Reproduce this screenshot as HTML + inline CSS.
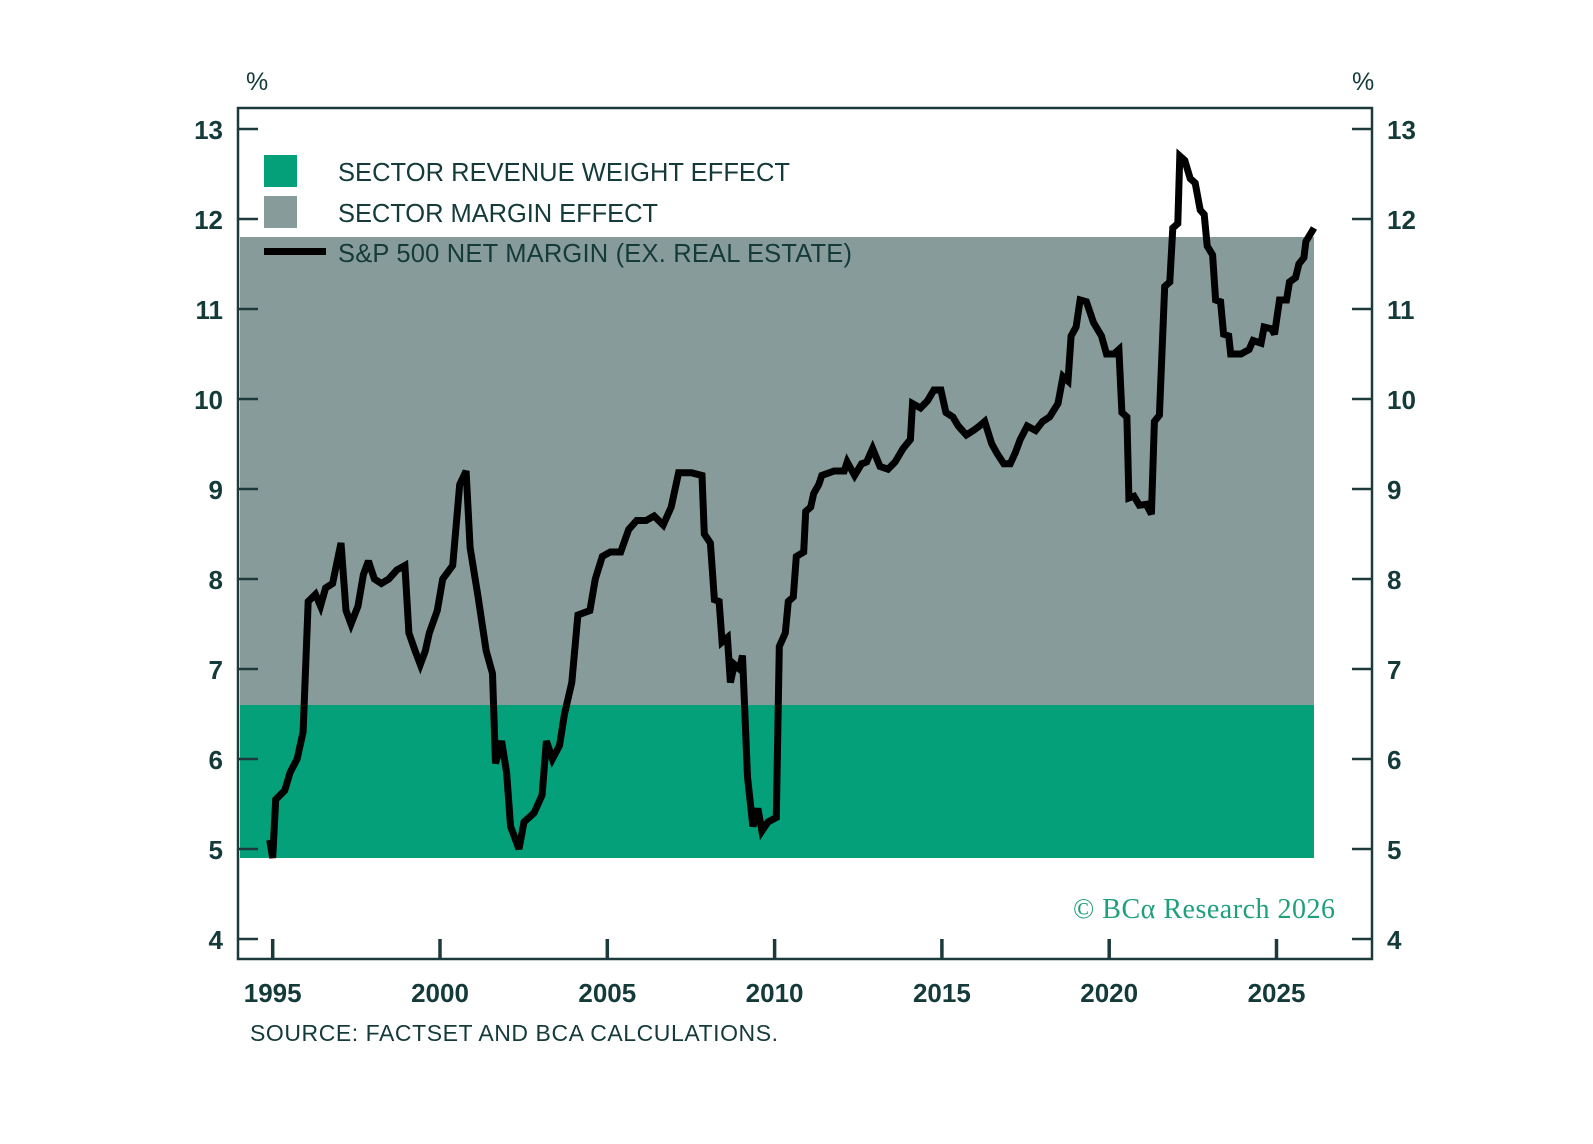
<!DOCTYPE html>
<html><head><meta charset="utf-8"><style>
html,body{margin:0;padding:0;background:#fff;}
svg{display:block;font-family:"Liberation Sans",sans-serif;}
</style></head><body>
<svg id="chart" width="1593" height="1144" viewBox="0 0 1593 1144" xmlns="http://www.w3.org/2000/svg">
<rect x="0" y="0" width="1593" height="1144" fill="#fff"/>
<g id="bands"></g>
<g id="line"></g>
<rect x="238" y="108" width="1134" height="851" fill="none" stroke="#1c3a3c" stroke-width="2.5"/>
<g id="axes"></g>
<text x="246" y="90" font-size="25" fill="#143a3a">%</text>
<text x="1352" y="90" font-size="25" fill="#143a3a">%</text>
<g>
<rect x="264" y="155" width="33" height="32" fill="#04a07a"/>
<text x="338" y="181" font-size="25.5" fill="#143a3a" textLength="452">SECTOR REVENUE WEIGHT EFFECT</text>
<rect x="264" y="196" width="33" height="32" fill="#879c9a"/>
<text x="338" y="222" font-size="25.5" fill="#143a3a" textLength="320">SECTOR MARGIN EFFECT</text>
<rect x="264" y="248" width="62" height="7" fill="#000"/>
<text x="338" y="262" font-size="25.5" fill="#143a3a" textLength="514">S&amp;P 500 NET MARGIN (EX. REAL ESTATE)</text>
</g>
<text x="1073" y="918" font-size="28" fill="#1fa07c" font-family="'Liberation Serif',serif" textLength="262">© BCα Research 2026</text>
<text x="250" y="1041" font-size="23" fill="#143a3a" textLength="528">SOURCE: FACTSET AND BCA CALCULATIONS.</text>
<script>
const yearTicks=[1995,2000,2005,2010,2015,2020,2025];
const valueTicks=[4,5,6,7,8,9,10,11,12,13];
const bandLevels=[4.9,6.6,11.8];
const bandEnd=[2026.12];
const years=[1994.91,1995.0,1995.09,1995.36,1995.52,1995.73,1995.91,1996.06,1996.28,1996.43,1996.58,1996.79,1997.04,1997.19,1997.34,1997.55,1997.71,1997.86,1998.04,1998.25,1998.47,1998.71,1998.95,1999.07,1999.26,1999.41,1999.56,1999.68,1999.92,2000.08,2000.38,2000.59,2000.78,2000.90,2001.14,2001.38,2001.57,2001.66,2001.84,2001.99,2002.11,2002.36,2002.51,2002.81,2003.05,2003.18,2003.36,2003.57,2003.72,2003.94,2004.12,2004.48,2004.64,2004.85,2005.09,2005.40,2005.64,2005.88,2006.16,2006.40,2006.67,2006.91,2007.13,2007.52,2007.83,2007.90,2008.08,2008.20,2008.34,2008.43,2008.59,2008.68,2008.80,2008.95,2009.04,2009.19,2009.35,2009.50,2009.62,2009.80,2010.05,2010.14,2010.32,2010.41,2010.56,2010.65,2010.87,2010.93,2011.08,2011.17,2011.32,2011.41,2011.78,2012.08,2012.17,2012.39,2012.60,2012.75,2012.93,2013.15,2013.39,2013.60,2013.84,2014.06,2014.12,2014.36,2014.57,2014.76,2014.97,2015.12,2015.33,2015.49,2015.73,2015.94,2016.12,2016.28,2016.49,2016.64,2016.85,2017.04,2017.19,2017.34,2017.55,2017.80,2018.01,2018.22,2018.47,2018.62,2018.77,2018.86,2019.01,2019.13,2019.32,2019.53,2019.77,2019.92,2020.14,2020.29,2020.38,2020.53,2020.59,2020.74,2020.90,2021.11,2021.26,2021.35,2021.50,2021.66,2021.81,2021.90,2022.05,2022.11,2022.26,2022.42,2022.57,2022.72,2022.84,2022.93,2023.09,2023.18,2023.33,2023.42,2023.57,2023.63,2023.94,2024.18,2024.30,2024.54,2024.63,2024.85,2024.94,2025.09,2025.30,2025.39,2025.57,2025.67,2025.82,2025.88,2026.12];
const netMargin=[5.1,4.9,5.55,5.65,5.85,6.0,6.3,7.75,7.83,7.7,7.9,7.95,8.4,7.65,7.5,7.7,8.05,8.2,8.0,7.95,8.0,8.1,8.15,7.4,7.2,7.05,7.2,7.4,7.65,8.0,8.15,9.05,9.2,8.35,7.8,7.2,6.95,5.95,6.2,5.85,5.25,5.0,5.3,5.4,5.6,6.2,6.0,6.15,6.5,6.85,7.6,7.65,8.0,8.25,8.3,8.3,8.55,8.65,8.65,8.7,8.6,8.8,9.18,9.18,9.15,8.5,8.4,7.77,7.75,7.3,7.35,6.85,7.05,7.0,7.15,5.8,5.25,5.45,5.2,5.3,5.35,7.25,7.4,7.75,7.8,8.25,8.3,8.75,8.8,8.95,9.05,9.15,9.2,9.2,9.3,9.15,9.28,9.3,9.45,9.25,9.22,9.3,9.45,9.55,9.95,9.9,9.98,10.1,10.1,9.85,9.8,9.7,9.6,9.65,9.7,9.75,9.5,9.4,9.28,9.28,9.4,9.55,9.7,9.65,9.75,9.8,9.95,10.25,10.2,10.7,10.8,11.1,11.08,10.85,10.7,10.5,10.5,10.55,9.85,9.8,8.9,8.92,8.82,8.83,8.72,9.75,9.82,11.25,11.3,11.9,11.95,12.7,12.65,12.45,12.4,12.1,12.05,11.7,11.6,11.1,11.08,10.72,10.7,10.5,10.5,10.55,10.65,10.62,10.8,10.78,10.72,11.1,11.1,11.3,11.35,11.5,11.57,11.75,11.9];

const NS='http://www.w3.org/2000/svg';
function xs(yr){return 272.7+(yr-1995)*33.46;}
function ys(v){return 939-(v-4)*90;}
function mk(tag,attrs,parent){const e=document.createElementNS(NS,tag);for(const k in attrs)e.setAttribute(k,attrs[k]);parent.appendChild(e);return e;}

const bands=document.getElementById('bands');
const bg=mk('rect',{x:240,y:ys(bandLevels[1]),width:xs(bandEnd[0])-240,height:ys(bandLevels[0])-ys(bandLevels[1]),fill:'#04a07a'},bands);


const bm=mk('rect',{x:240,y:ys(bandLevels[2]),width:xs(bandEnd[0])-240,height:ys(bandLevels[1])-ys(bandLevels[2]),fill:'#879c9a'},bands);



const lg=document.getElementById('line');
const pts=years.map((y,i)=>xs(y).toFixed(1)+','+ys(netMargin[i]).toFixed(1)).join(' ');
const pl=mk('polyline',{points:pts,fill:'none',stroke:'#000','stroke-width':7,'stroke-linejoin':'miter','stroke-miterlimit':3},lg);



const ax=document.getElementById('axes');
valueTicks.forEach(v=>{
  const y=ys(v);
  const t1=mk('line',{x1:238,x2:258,y1:y,y2:y,stroke:'#1c3a3c','stroke-width':2.5},ax);
  
  
  const t2=mk('line',{x1:1352,x2:1372,y1:y,y2:y,stroke:'#1c3a3c','stroke-width':2.5},ax);
  
  
  const l1=mk('text',{x:223,y:y+10,'font-size':26,'font-weight':'bold','text-anchor':'end',fill:'#143a3a'},ax);
  l1.textContent=v;
  
  
  const l2=mk('text',{x:1387,y:y+10,'font-size':26,'font-weight':'bold',fill:'#143a3a'},ax);
  l2.textContent=v;
  
  
});
yearTicks.forEach(yr=>{
  const x=xs(yr);
  const t=mk('line',{x1:x,x2:x,y1:939,y2:959,stroke:'#1c3a3c','stroke-width':3.5},ax);
  
  
  const l=mk('text',{x:x,y:1002,'font-size':26,'font-weight':'bold','text-anchor':'middle',fill:'#143a3a'},ax);
  l.textContent=yr;
  
  
});
</script>
</svg>
</body></html>
